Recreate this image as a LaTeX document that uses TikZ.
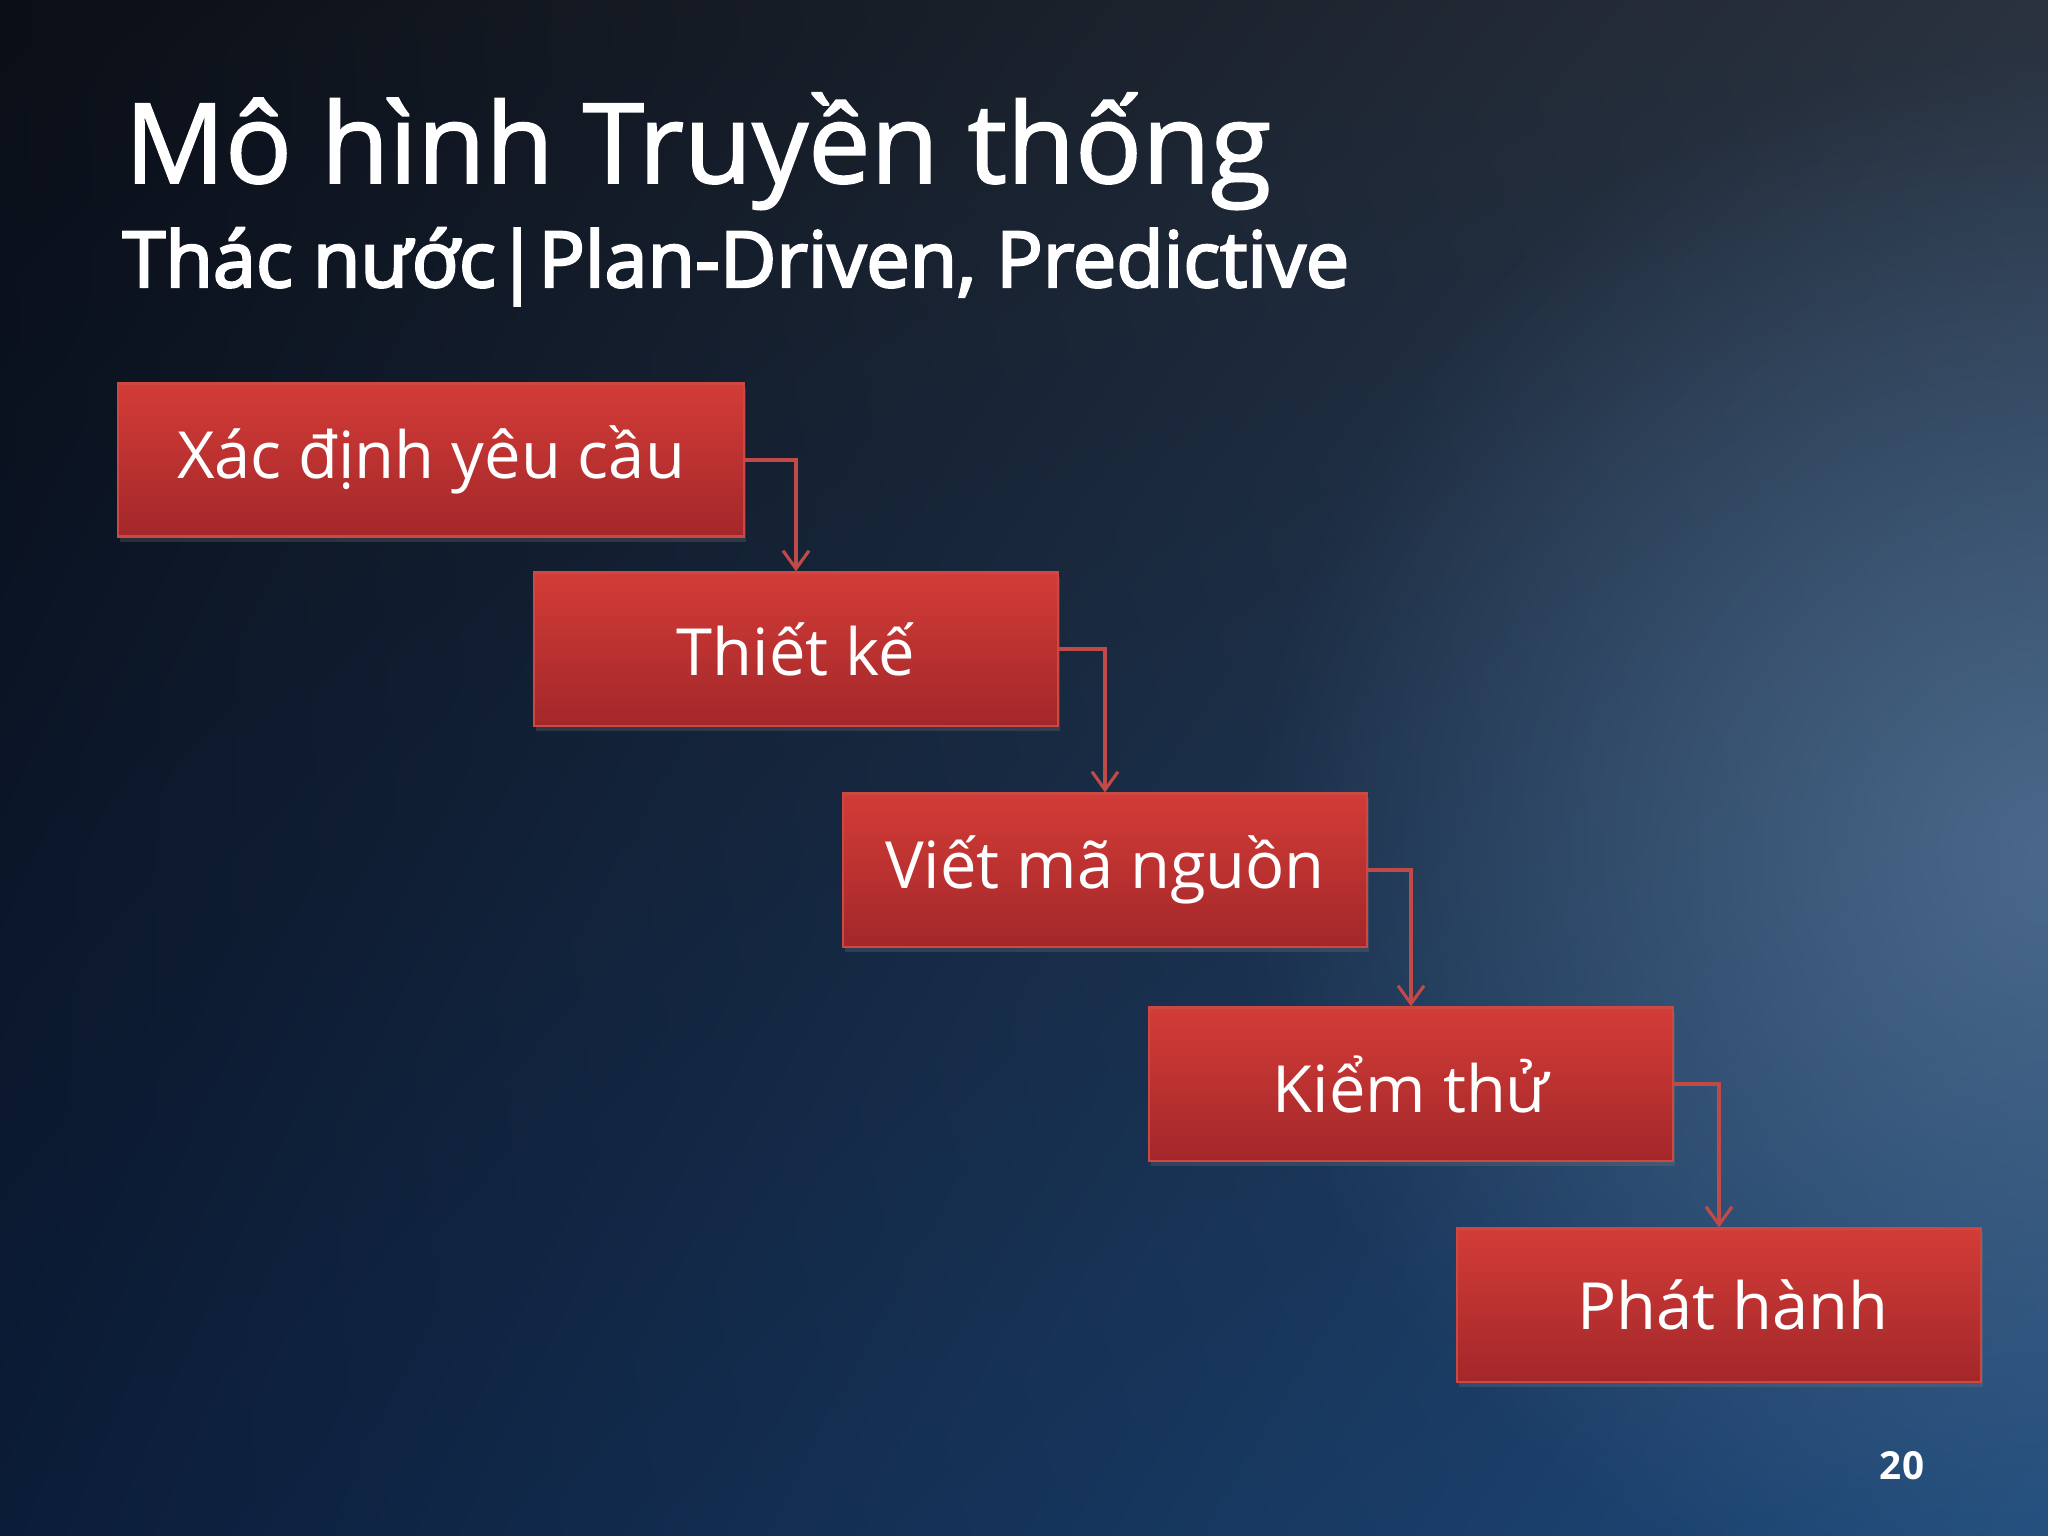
\documentclass[tikz,border=0pt]{standalone}
\usepackage{fontspec}
\setmainfont{Open Sans}
\newfontfamily\titlefont[FakeBold=1.5]{Open Sans}
\newfontfamily\subfont[FakeBold=3]{Open Sans}
\usetikzlibrary{arrows.meta,shadows,fadings,shadings}
\definecolor{bgtl}{HTML}{0A0E16}
\definecolor{bgtr}{HTML}{2A323E}
\definecolor{bgbl}{HTML}{0B1C38}
\definecolor{bgbr}{HTML}{1F4B7C}
\definecolor{glow}{HTML}{5A7A9C}
\definecolor{boxtop}{HTML}{D33C37}
\definecolor{boxbot}{HTML}{A3272A}
\definecolor{boxline}{HTML}{CC4843}
\definecolor{linkred}{HTML}{BF4A47}
\tikzfading[name=glowfade, inner color=transparent!0, outer color=transparent!100]

\begin{document}
\begin{tikzpicture}[x=0.01cm,y=-0.01cm,
  stage/.style={draw=boxline, line width=0.6pt, top color=boxtop, bottom color=boxbot,
    minimum height=1.53cm, minimum width=5.23cm, text=white, font=\fontsize{18.5}{22}\selectfont,
    drop shadow={opacity=0.25, shadow xshift=0.02cm, shadow yshift=-0.05cm}},
  flow/.style={draw=linkred, line width=0.9pt, -{Straight Barb[length=0.18cm,width=0.26cm]}}]
\useasboundingbox (0,0) rectangle (2048,1536);
\shade[upper left=bgtl, upper right=bgtr, lower left=bgbl, lower right=bgbr] (0,0) rectangle (2048,1536);
\begin{scope}
\clip (0,0) rectangle (2048,1536);
\fill[glow, opacity=0.7, path fading=glowfade] (2048,850) ellipse (800 and 800);
\end{scope}
\node[anchor=base west, inner sep=0, text=white, font=\titlefont\fontsize{31.6}{36}\selectfont] (title) at (124,183) {Mô hình Truyền thống};
\node[anchor=base west, inner sep=0, text=white, font=\subfont\fontsize{22}{26}\selectfont] (subtitle) at (122,287) {Thác nước|Plan-Driven, Predictive};
\node[stage, minimum width=6.25cm] (req) at (431,460) {Xác định yêu cầu};
\node[stage] (design) at (796,649) {Thiết kế};
\node[stage] (code) at (1105,870) {Viết mã nguồn};
\node[stage] (test) at (1411,1084) {Kiểm thử};
\node[stage] (release) at (1719,1305) {\hspace*{0.28cm}Phát hành};
\draw[flow] (req.east) -| (design.north);
\draw[flow] (design.east) -| (code.north);
\draw[flow] (code.east) -| (test.north);
\draw[flow] (test.east) -| (release.north);
\node[text=white, font=\bfseries\fontsize{11}{13}\selectfont] (page) at (1902,1466) {20};
\end{tikzpicture}
\end{document}
